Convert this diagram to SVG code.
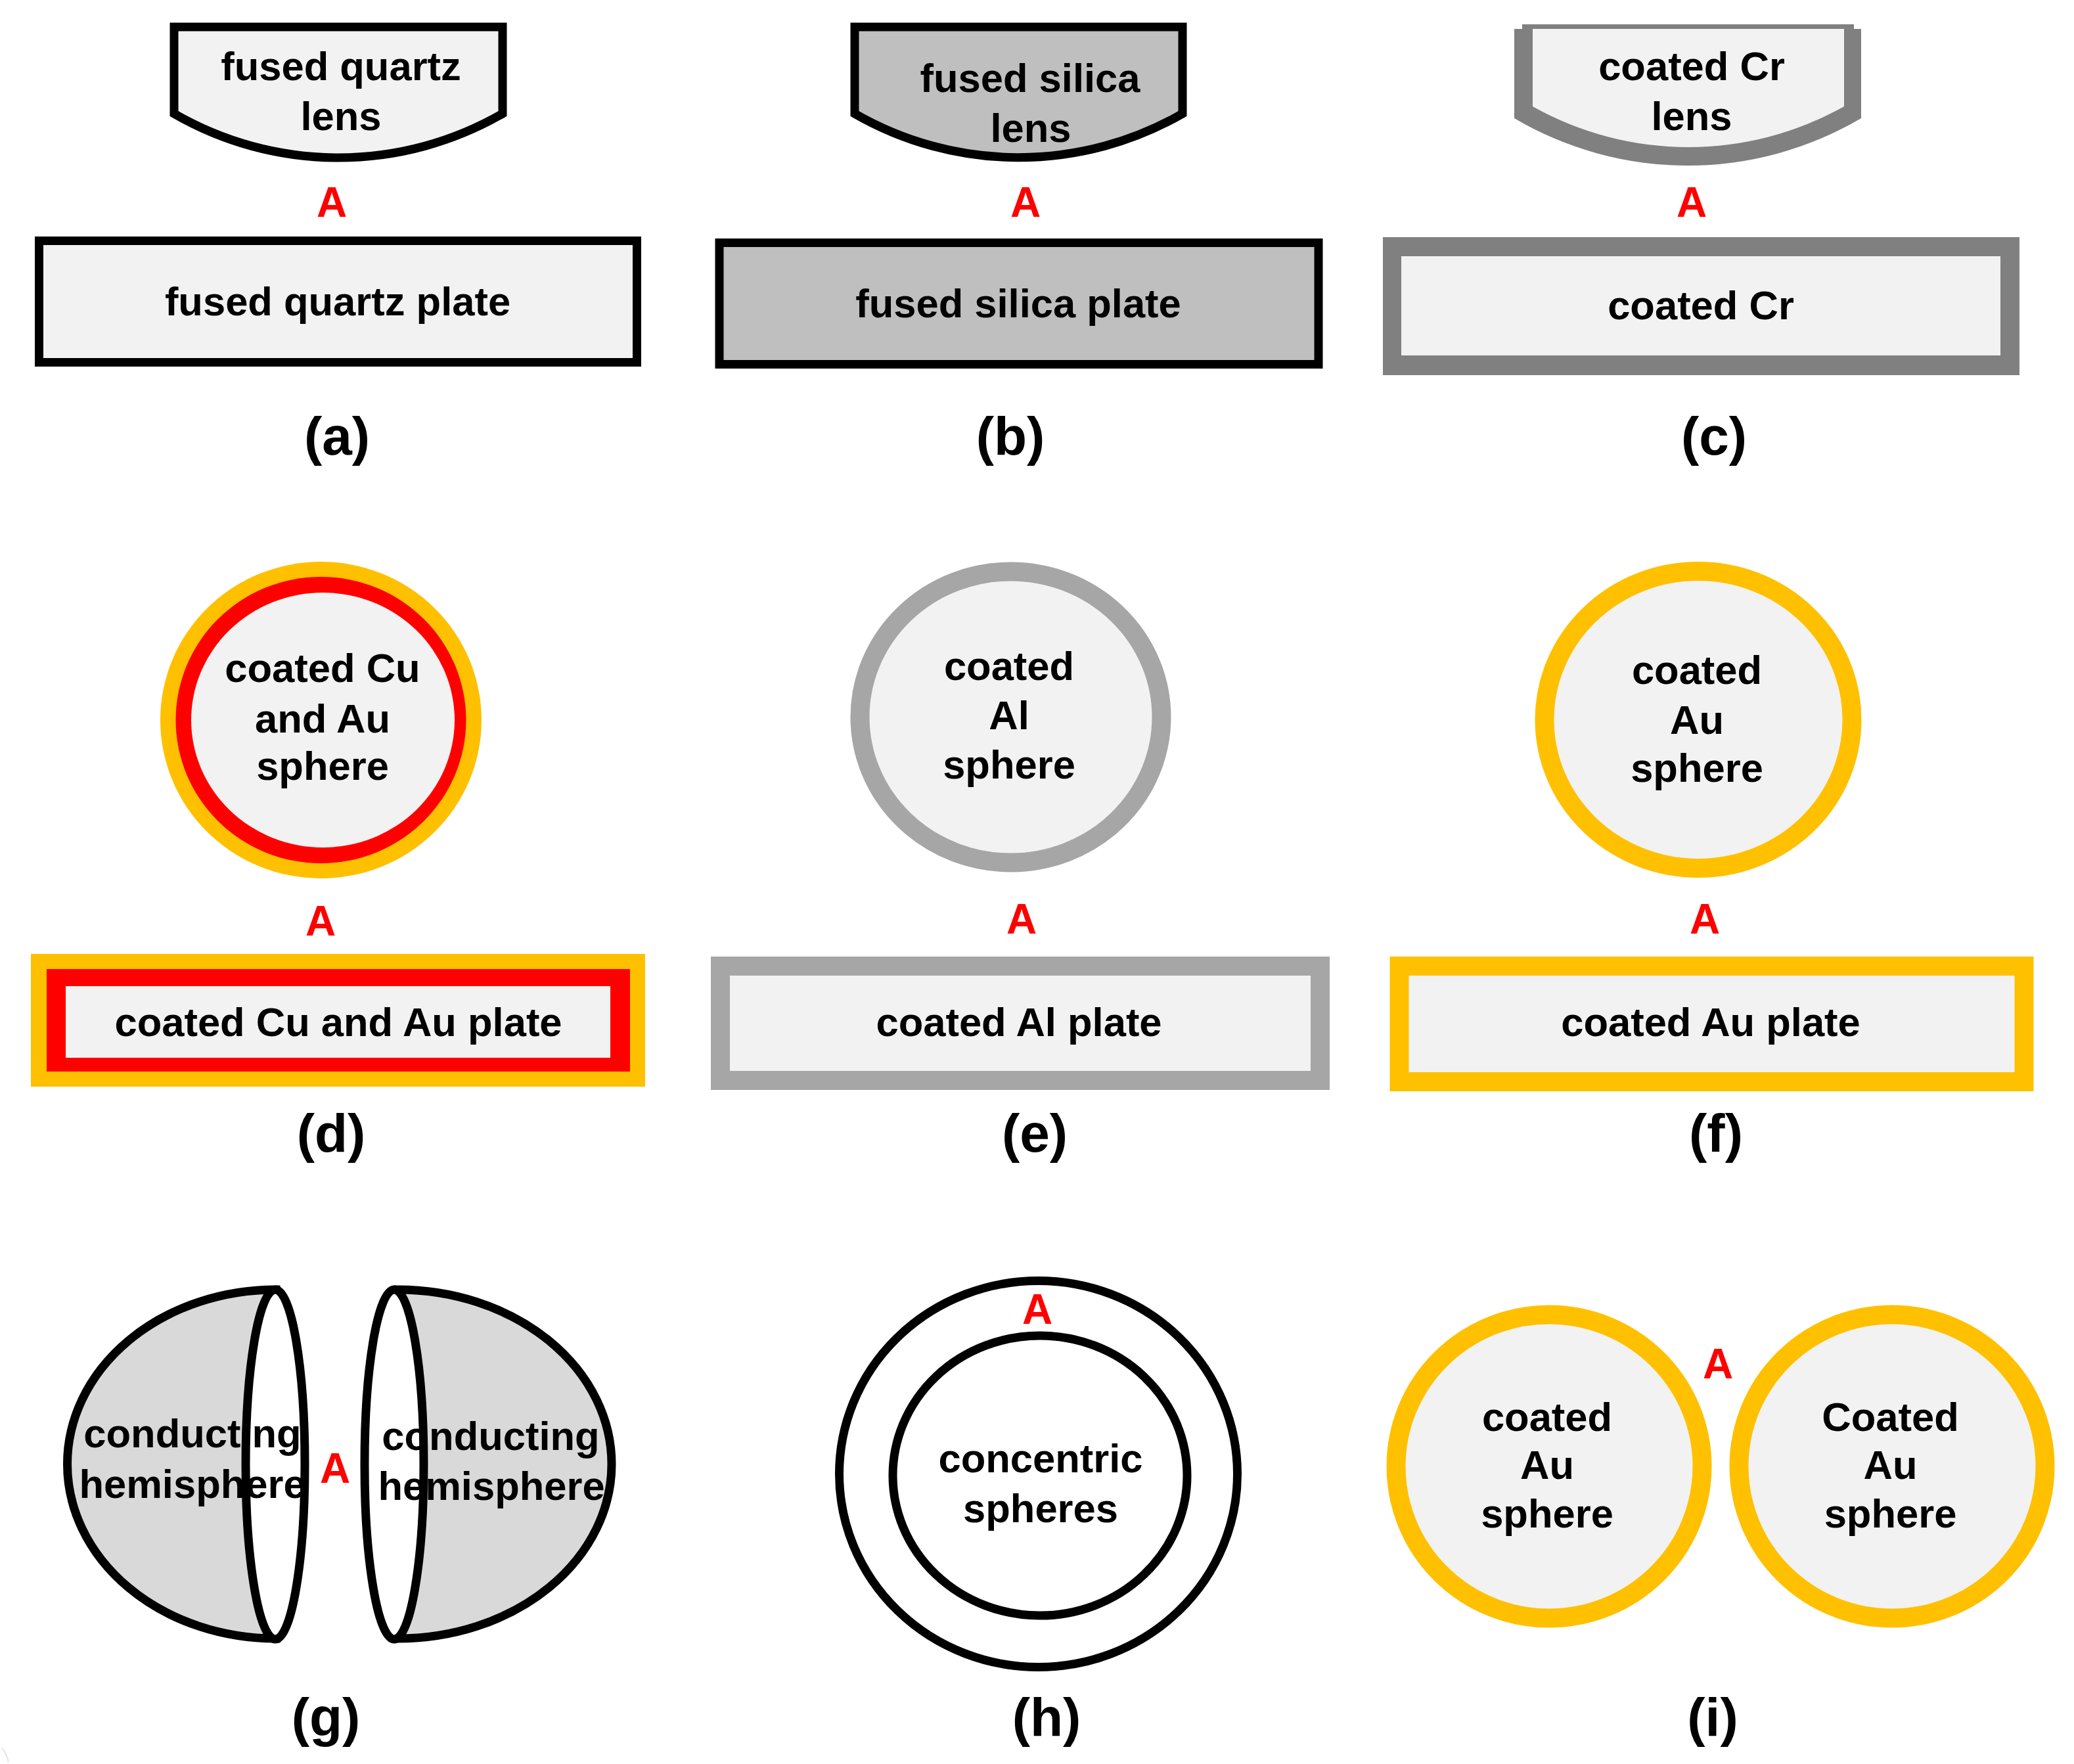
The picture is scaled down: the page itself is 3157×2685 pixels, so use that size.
<svg xmlns="http://www.w3.org/2000/svg" width="3157" height="2685" viewBox="0 0 3157 2685">
<style>
text{font-family:"Liberation Sans",Arial,sans-serif;font-weight:700;text-anchor:middle}
.t{font-size:61.500px;fill:#000}
.g{font-size:64px;fill:#f00}
.c{font-size:82px;fill:#000}
.lf{fill:#f2f2f2}
.k{fill:#f2f2f2;stroke:#000;stroke-width:13}
.s{fill:#bfbfbf;stroke:#000;stroke-width:13}
.au{fill:#f2f2f2;stroke:#ffc000;stroke-width:29}
.al{fill:#f2f2f2;stroke:#a6a6a6;stroke-width:29}
.ln{fill:none;stroke:#000;stroke-width:13}
.dm{fill:#d9d9d9;stroke:#000;stroke-width:13}
.op{fill:#fff;stroke:#000;stroke-width:13}
</style>
<rect width="3157" height="2685" fill="#fff"/>
<g id="panel-a">
<path class="k" d="M265 41H765V173A500 500 0 0 1 265 173Z"/>
<rect class="k" x="59.500" y="366.500" width="910" height="185"/>
<text class="t" x="519" y="122">fused quartz</text>
<text class="t" x="519" y="198">lens</text>
<text class="g" x="505" y="330">A</text>
<text class="t" x="514" y="480">fused quartz plate</text>
<text class="c" x="513" y="692">(a)</text>
</g>
<g id="panel-b">
<path class="s" d="M1301 41H1800V173A500 500 0 0 1 1301 173Z"/>
<rect class="s" x="1095" y="369.500" width="912" height="185"/>
<text class="t" x="1568" y="140">fused silica</text>
<text class="t" x="1569" y="216">lens</text>
<text class="g" x="1561" y="330">A</text>
<text class="t" x="1550" y="483">fused silica plate</text>
<text class="c" x="1538" y="692">(b)</text>
</g>
<g id="panel-c">
<path fill="#808080" d="M2317 37H2822V44H2833V180A520 520 0 0 1 2305 180V44H2317Z"/>
<path class="lf" d="M2333 44H2807V162A484 484 0 0 1 2333 162Z"/>
<rect fill="#808080" x="2105" y="361" width="969" height="210"/>
<rect class="lf" x="2133" y="390" width="912" height="151"/>
<text class="t" x="2575" y="122">coated Cr</text>
<text class="t" x="2575" y="198">lens</text>
<text class="g" x="2575" y="330">A</text>
<text class="t" x="2589" y="486">coated Cr</text>
<text class="c" x="2609" y="692">(c)</text>
</g>
<g id="panel-d">
<ellipse fill="#ffc000" cx="488.500" cy="1096" rx="244.500" ry="241"/>
<ellipse fill="#f00" cx="488.500" cy="1096" rx="221" ry="218"/>
<ellipse class="lf" cx="491.500" cy="1096" rx="200.500" ry="194"/>
<rect fill="#ffc000" x="47" y="1452" width="935" height="202"/>
<rect fill="#f00" x="71" y="1475" width="888" height="156"/>
<rect class="lf" x="100" y="1501" width="829" height="109"/>
<text class="t" x="491" y="1038">coated Cu</text>
<text class="t" x="491" y="1115">and Au</text>
<text class="t" x="491" y="1187">sphere</text>
<text class="g" x="488" y="1424">A</text>
<text class="t" x="515" y="1577">coated Cu and Au plate</text>
<text class="c" x="504" y="1753">(d)</text>
</g>
<g id="panel-e">
<ellipse class="al" cx="1538.500" cy="1091.500" rx="229.500" ry="221.500"/>
<rect class="al" x="1096.500" y="1470.500" width="913" height="174"/>
<text class="t" x="1536" y="1035">coated</text>
<text class="t" x="1536" y="1110">Al</text>
<text class="t" x="1536" y="1185">sphere</text>
<text class="g" x="1555" y="1421">A</text>
<text class="t" x="1551" y="1577">coated Al plate</text>
<text class="c" x="1575" y="1753">(e)</text>
</g>
<g id="panel-f">
<ellipse class="au" cx="2585" cy="1095.500" rx="234" ry="226"/>
<rect class="au" x="2130" y="1470.500" width="951" height="176"/>
<text class="t" x="2583" y="1041">coated</text>
<text class="t" x="2583" y="1117">Au</text>
<text class="t" x="2583" y="1190">sphere</text>
<text class="g" x="2595" y="1421">A</text>
<text class="t" x="2604" y="1577">coated Au plate</text>
<text class="c" x="2612" y="1753">(f)</text>
</g>
<g id="panel-g">
<path class="dm" d="M420 1963A317.500 265.500 0 0 0 420 2494Z"/>
<ellipse class="op" cx="419" cy="2229" rx="45" ry="266"/>
<path class="dm" d="M606 1963A325 265.500 0 0 1 606 2494Z"/>
<ellipse class="op" cx="600" cy="2229" rx="45" ry="266"/>
<text class="t" x="293" y="2203">conducting</text>
<text class="t" x="293" y="2280">hemisphere</text>
<text class="t" x="747" y="2207">conducting</text>
<text class="t" x="748" y="2283">hemisphere</text>
<text class="g" x="510" y="2257">A</text>
<text class="c" x="496" y="2642">(g)</text>
</g>
<g id="panel-h">
<ellipse class="ln" cx="1580.500" cy="2243.500" rx="303" ry="294"/>
<ellipse class="ln" cx="1583" cy="2246" rx="224" ry="213"/>
<text class="t" x="1584" y="2241">concentric</text>
<text class="t" x="1584" y="2317">spheres</text>
<text class="g" x="1579" y="2015">A</text>
<text class="c" x="1593" y="2642">(h)</text>
</g>
<g id="panel-i">
<ellipse class="au" cx="2358" cy="2232" rx="233" ry="231"/>
<ellipse class="au" cx="2880" cy="2232" rx="233" ry="231"/>
<text class="t" x="2355" y="2178">coated</text>
<text class="t" x="2355" y="2251">Au</text>
<text class="t" x="2355" y="2325">sphere</text>
<text class="t" x="2877.500" y="2178">Coated</text>
<text class="t" x="2877.500" y="2251">Au</text>
<text class="t" x="2877.500" y="2325">sphere</text>
<text class="g" x="2615" y="2098">A</text>
<text class="c" x="2607" y="2642">(i)</text>
</g>
<path fill="none" stroke="#e4e4e4" stroke-width="2" d="M3 2660Q10 2670 13 2682"/>
</svg>
